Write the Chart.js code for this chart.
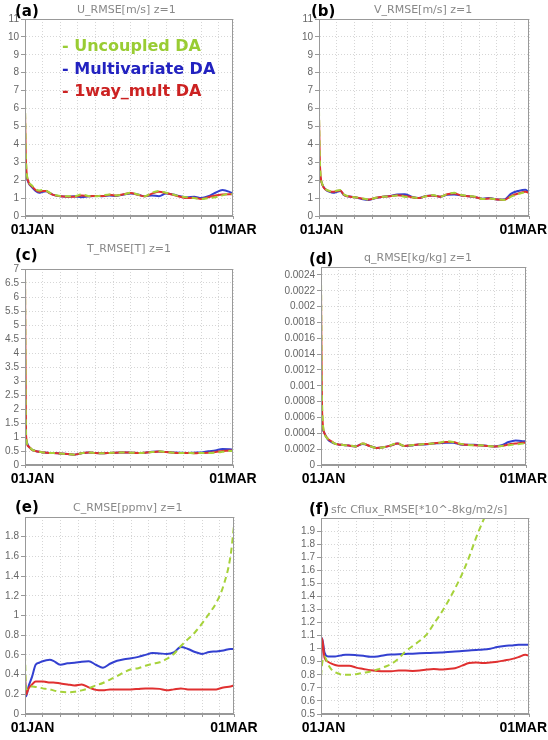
<!DOCTYPE html>
<html>
<head>
<meta charset="utf-8">
<script src="https://cdn.jsdelivr.net/npm/chart.js@4.4.1/dist/chart.umd.min.js"></script>
<style>
  body { margin: 0; background: #fff; width: 548px; height: 740px; position: relative; overflow: hidden; }
  canvas { position: absolute; }
  .tag { position: absolute; font: bold 15px "DejaVu Sans", sans-serif; color: #000; line-height: 1; white-space: nowrap; }
  .sub { position: absolute; font: 11px "DejaVu Sans", sans-serif; color: #888; line-height: 1; white-space: nowrap; }
  .legend { position: absolute; left: 62px; top: 35px; font: bold 16px "DejaVu Sans", sans-serif; line-height: 22.5px; white-space: nowrap; }
</style>
</head>
<body>
<script>
// days since 01JAN
const days = [0, 0.3, 1, 2, 3, 4, 5, 6, 7, 8, 10, 12, 14, 16, 18, 20, 22, 24, 26, 28, 30, 32, 34, 36, 38, 40, 42, 44, 46, 48, 50, 52, 54, 56, 58, 59];
const xTicks = [0, 5, 10, 15, 20, 25, 30, 35, 40, 45, 50, 55, 59];
const dateLabels = ['01JAN', '01MAR'];
const dateDays = [0, 59];
const seriesNames = ['Uncoupled DA', 'Multivariate DA', '1way_mult DA'];

// (a) U
const uUnc = [6.3, 3.0, 1.95, 1.7, 1.5, 1.42, 1.45, 1.42, 1.3, 1.2, 1.12, 1.1, 1.1, 1.2, 1.12, 1.1, 1.15, 1.2, 1.15, 1.2, 1.3, 1.2, 1.1, 1.3, 1.4, 1.3, 1.2, 1.1, 1.05, 1.0, 0.95, 1.0, 1.05, 1.15, 1.25, 1.2];
const uMul = [2.6, 2.3, 1.85, 1.6, 1.4, 1.3, 1.35, 1.38, 1.28, 1.18, 1.1, 1.08, 1.1, 1.05, 1.1, 1.12, 1.1, 1.15, 1.12, 1.2, 1.25, 1.2, 1.1, 1.15, 1.1, 1.25, 1.2, 1.1, 1.05, 1.08, 1.0, 1.1, 1.3, 1.45, 1.35, 1.25];
const u1w = [5.8, 2.9, 1.9, 1.65, 1.45, 1.35, 1.4, 1.4, 1.28, 1.18, 1.1, 1.08, 1.08, 1.15, 1.1, 1.12, 1.12, 1.18, 1.15, 1.22, 1.28, 1.18, 1.1, 1.25, 1.35, 1.28, 1.18, 1.08, 1.0, 1.02, 0.95, 1.05, 1.15, 1.2, 1.22, 1.2];
// (b) V
const vUnc = [5.9, 2.8, 1.75, 1.48, 1.4, 1.38, 1.42, 1.45, 1.2, 1.12, 1.05, 1.0, 0.92, 1.02, 1.08, 1.1, 1.15, 1.08, 1.05, 1.0, 1.1, 1.17, 1.08, 1.22, 1.3, 1.17, 1.12, 1.08, 0.95, 0.98, 0.93, 0.9, 1.08, 1.22, 1.32, 1.27];
const vMul = [2.6, 2.2, 1.73, 1.45, 1.35, 1.3, 1.35, 1.4, 1.17, 1.1, 1.05, 0.95, 0.9, 1.0, 1.08, 1.12, 1.2, 1.22, 1.08, 1.0, 1.12, 1.15, 1.08, 1.18, 1.2, 1.15, 1.1, 1.05, 0.97, 1.0, 0.92, 0.92, 1.25, 1.4, 1.47, 1.3];
const v1w = [5.5, 2.7, 1.72, 1.46, 1.38, 1.35, 1.4, 1.42, 1.18, 1.1, 1.05, 0.98, 0.92, 1.02, 1.08, 1.1, 1.16, 1.12, 1.05, 1.0, 1.1, 1.15, 1.08, 1.22, 1.25, 1.15, 1.1, 1.05, 0.95, 0.98, 0.92, 0.9, 1.12, 1.26, 1.36, 1.28];
// (c) T
const tUnc = [7.0, 1.1, 0.67, 0.55, 0.5, 0.47, 0.45, 0.44, 0.43, 0.43, 0.41, 0.39, 0.37, 0.42, 0.45, 0.43, 0.42, 0.43, 0.44, 0.45, 0.44, 0.43, 0.44, 0.46, 0.49, 0.46, 0.44, 0.43, 0.43, 0.42, 0.43, 0.43, 0.44, 0.47, 0.5, 0.5];
const tMul = [1.02, 0.9, 0.67, 0.55, 0.5, 0.47, 0.45, 0.44, 0.43, 0.43, 0.41, 0.39, 0.37, 0.42, 0.45, 0.43, 0.42, 0.43, 0.44, 0.45, 0.44, 0.43, 0.44, 0.47, 0.48, 0.46, 0.45, 0.44, 0.43, 0.44, 0.45, 0.49, 0.52, 0.57, 0.56, 0.55];
const t1w = [6.8, 1.05, 0.66, 0.54, 0.5, 0.47, 0.45, 0.44, 0.43, 0.43, 0.41, 0.39, 0.37, 0.42, 0.45, 0.43, 0.42, 0.43, 0.44, 0.45, 0.44, 0.43, 0.44, 0.46, 0.48, 0.46, 0.44, 0.43, 0.43, 0.42, 0.43, 0.44, 0.46, 0.5, 0.52, 0.52];
// (d) q
const qUnc = [0.0024, 0.0008, 0.0004, 0.00033, 0.0003, 0.00027, 0.00026, 0.000255, 0.00025, 0.00025, 0.000235, 0.00027, 0.00024, 0.000215, 0.000225, 0.00025, 0.000275, 0.00024, 0.00025, 0.00026, 0.000265, 0.00027, 0.00028, 0.0003, 0.00029, 0.00027, 0.000255, 0.00025, 0.00025, 0.00024, 0.000235, 0.00024, 0.00025, 0.00026, 0.00027, 0.00028];
const qMul = [0.00052, 0.00047, 0.0004, 0.00032, 0.00029, 0.00027, 0.00026, 0.000255, 0.00025, 0.000245, 0.000235, 0.000265, 0.00024, 0.000215, 0.000225, 0.000245, 0.00027, 0.00024, 0.000245, 0.00026, 0.00026, 0.00027, 0.000275, 0.00028, 0.00028, 0.00026, 0.000255, 0.000255, 0.00025, 0.00024, 0.000235, 0.00025, 0.00029, 0.00031, 0.0003, 0.0003];
const q1w = [0.0022, 0.0007, 0.0004, 0.00033, 0.0003, 0.00027, 0.00026, 0.000255, 0.00025, 0.000245, 0.000235, 0.00027, 0.00024, 0.000215, 0.000225, 0.000245, 0.00027, 0.00024, 0.00025, 0.00026, 0.000265, 0.00027, 0.00028, 0.00029, 0.00029, 0.000265, 0.000255, 0.00025, 0.000245, 0.00024, 0.000235, 0.00024, 0.00026, 0.00027, 0.00028, 0.00028];
// (e) C
const cUnc = [0.6, 0.25, 0.27, 0.28, 0.275, 0.27, 0.26, 0.255, 0.25, 0.24, 0.225, 0.22, 0.225, 0.24, 0.26, 0.29, 0.315, 0.35, 0.385, 0.425, 0.455, 0.465, 0.49, 0.51, 0.525, 0.56, 0.61, 0.69, 0.76, 0.83, 0.92, 1.02, 1.13, 1.3, 1.6, 1.91];
const cMul = [0.35, 0.18, 0.28, 0.38, 0.5, 0.52, 0.535, 0.545, 0.55, 0.54, 0.5, 0.515, 0.52, 0.53, 0.535, 0.5, 0.47, 0.51, 0.54, 0.555, 0.565, 0.58, 0.6, 0.62, 0.615, 0.61, 0.625, 0.68, 0.66, 0.63, 0.61, 0.63, 0.635, 0.645, 0.66, 0.66];
const c1w = [0.4, 0.2, 0.26, 0.3, 0.33, 0.33, 0.33, 0.325, 0.32, 0.32, 0.31, 0.3, 0.29, 0.3, 0.27, 0.245, 0.24, 0.25, 0.25, 0.25, 0.25, 0.255, 0.26, 0.26, 0.255, 0.24, 0.25, 0.26, 0.25, 0.25, 0.25, 0.25, 0.25, 0.27, 0.28, 0.29];
// (f) surface C flux
const fUnc = [0.79, 0.88, 0.94, 0.88, 0.84, 0.82, 0.81, 0.8, 0.8, 0.8, 0.805, 0.815, 0.825, 0.84, 0.86, 0.885, 0.925, 0.98, 1.02, 1.06, 1.11, 1.19, 1.27, 1.36, 1.46, 1.57, 1.7, 1.85, 1.98, 2.1, null, null, null, null, null, null];
const fMul = [0.9, 1.08, 0.97, 0.94, 0.94, 0.94, 0.945, 0.95, 0.953, 0.953, 0.95, 0.945, 0.938, 0.94, 0.95, 0.955, 0.958, 0.96, 0.962, 0.965, 0.967, 0.968, 0.97, 0.975, 0.978, 0.982, 0.986, 0.99, 0.993, 1.0, 1.012, 1.02, 1.025, 1.03, 1.03, 1.03];
const f1w = [0.88, 1.08, 0.93, 0.9, 0.885, 0.875, 0.87, 0.87, 0.87, 0.87, 0.855, 0.845, 0.835, 0.83, 0.828, 0.828, 0.832, 0.832, 0.83, 0.832, 0.84, 0.845, 0.84, 0.845, 0.85, 0.87, 0.89, 0.895, 0.89, 0.895, 0.9, 0.91, 0.92, 0.935, 0.953, 0.945];

// y tick values
const uvTicks = [0, 1, 2, 3, 4, 5, 6, 7, 8, 9, 10, 11];
const tTicks = [0, 0.5, 1, 1.5, 2, 2.5, 3, 3.5, 4, 4.5, 5, 5.5, 6, 6.5, 7];
const qTicks = [0, 0.0002, 0.0004, 0.0006, 0.0008, 0.001, 0.0012, 0.0014, 0.0016, 0.0018, 0.002, 0.0022, 0.0024];
const cTicks = [0, 0.2, 0.4, 0.6, 0.8, 1, 1.2, 1.4, 1.6, 1.8];
const fTicks = [0.5, 0.6, 0.7, 0.8, 0.9, 1, 1.1, 1.2, 1.3, 1.4, 1.5, 1.6, 1.7, 1.8, 1.9];

const GREEN = '#a6d23a';
const BLUE = '#3340d0';
const RED = '#e03030';

// layout of the six panels (pixels)
const panels = [
  { tag: '(a)', title: 'U_RMSE[m/s]  z=1', series: [uUnc, uMul, u1w], min: 0, max: 11, ticks: uvTicks,
    left: 0, top: 0, h: 245, padTop: 19, padRight: 41, yw: 25, xh: 29, jan: 7.5,
    tagPos: [15, 4], subPos: [77, 3.5] },
  { tag: '(b)', title: 'V_RMSE[m/s]  z=1', series: [vUnc, vMul, v1w], min: 0, max: 11, ticks: uvTicks,
    left: 274, top: 0, h: 245, padTop: 19, padRight: 19, yw: 45, xh: 29, jan: 2.5,
    tagPos: [311, 4], subPos: [374, 3.5] },
  { tag: '(c)', title: 'T_RMSE[T]  z=1', series: [tUnc, tMul, t1w], min: 0, max: 7, ticks: tTicks,
    left: 0, top: 245, h: 245, padTop: 24, padRight: 41, yw: 25, xh: 25, jan: 7.5,
    tagPos: [15, 248], subPos: [87, 242.5] },
  { tag: '(d)', title: 'q_RMSE[kg/kg]  z=1', series: [qUnc, qMul, q1w], min: 0, max: 0.0025, ticks: qTicks,
    left: 274, top: 245, h: 245, padTop: 22, padRight: 22, yw: 47, xh: 25, jan: 2.5,
    tagPos: [309, 252], subPos: [364, 251.5] },
  { tag: '(e)', title: 'C_RMSE[ppmv]  z=1', series: [cUnc, cMul, c1w], min: 0, max: 2, ticks: cTicks,
    left: 0, top: 490, h: 250, padTop: 27, padRight: 40, yw: 25, xh: 26, jan: 7.5,
    tagPos: [15, 500], subPos: [73, 501.5] },
  { tag: '(f)', title: 'sfc Cflux_RMSE[*10^-8kg/m2/s]', series: [fUnc, fMul, f1w], min: 0.5, max: 2, ticks: fTicks,
    left: 274, top: 490, h: 250, padTop: 28, padRight: 19, yw: 47, xh: 26, jan: 2.5,
    tagPos: [309, 502], subPos: [331, 503.5] }
];

// box around the plot area
const framePlugin = {
  id: 'frame',
  afterDraw(chart) {
    const { ctx, chartArea: a } = chart;
    ctx.save();
    ctx.strokeStyle = '#999';
    ctx.lineWidth = 1;
    ctx.strokeRect(Math.round(a.left) + 0.5, Math.round(a.top) + 0.5, Math.round(a.right - a.left) - 1, Math.round(a.bottom - a.top) - 1);
    ctx.restore();
  }
};

// bold date labels under the x axis
const datePlugin = {
  id: 'dates',
  afterDraw(chart, args, opts) {
    const { ctx, chartArea, scales: { x } } = chart;
    ctx.save();
    ctx.font = 'bold 14px "Liberation Sans", Arial, sans-serif';
    ctx.fillStyle = '#000';
    ctx.textAlign = 'center';
    ctx.textBaseline = 'middle';
    dateDays.forEach((d, i) => {
      const w = ctx.measureText(dateLabels[i]).width;
      let cx = x.getPixelForValue(d) + (i === 0 ? opts.jan : 0);
      cx = Math.min(Math.max(cx, w / 2 + 1), chart.width - w / 2 - 1);
      ctx.fillText(dateLabels[i], cx, chartArea.bottom + 14);
    });
    ctx.restore();
  }
};

const pts = vals => days.map((d, i) => ({ x: d, y: vals[i] }));
const fmt = v => String(+Number(v).toFixed(6));

function addText(cls, text, x, y) {
  const el = document.createElement('div');
  el.className = cls;
  el.textContent = text;
  el.style.left = x + 'px';
  el.style.top = y + 'px';
  document.body.appendChild(el);
  return el;
}

panels.forEach(p => {
  const canvas = document.createElement('canvas');
  canvas.width = 274;
  canvas.height = p.h;
  canvas.style.left = p.left + 'px';
  canvas.style.top = p.top + 'px';
  document.body.appendChild(canvas);

  const gridOpts = { color: '#d6d6d6', tickColor: '#999', tickLength: 4, tickBorderDash: [] };
  const borderOpts = { color: '#999', dash: [1, 2] };

  new Chart(canvas, {
    type: 'line',
    data: {
      datasets: [
        { label: seriesNames[0], data: pts(p.series[0]), borderColor: GREEN, borderDash: [6, 4], borderWidth: 2, order: 0 },
        { label: seriesNames[1], data: pts(p.series[1]), borderColor: BLUE, borderWidth: 2, order: 2 },
        { label: seriesNames[2], data: pts(p.series[2]), borderColor: RED, borderWidth: 2, order: 1 }
      ]
    },
    options: {
      responsive: false,
      animation: false,
      elements: { point: { radius: 0 }, line: { cubicInterpolationMode: 'monotone' } },
      layout: { padding: { top: p.padTop, right: p.padRight, bottom: 0, left: 0 } },
      plugins: { legend: { display: false }, tooltip: { enabled: false }, dates: { jan: p.jan } },
      scales: {
        x: {
          type: 'linear', min: 0, max: 59,
          afterFit: s => { s.height = p.xh; },
          afterBuildTicks: s => { s.ticks = xTicks.map(v => ({ value: v })); },
          ticks: { display: false, autoSkip: false },
          grid: Object.assign({}, gridOpts, { tickLength: 3 }),
          border: borderOpts
        },
        y: {
          min: p.min, max: p.max,
          afterFit: s => { s.width = p.yw; },
          afterBuildTicks: s => { s.ticks = p.ticks.map(v => ({ value: v })); },
          ticks: { color: '#666', padding: 2, autoSkip: false, font: { family: '"Liberation Sans", Arial, sans-serif', size: 10 }, callback: fmt },
          grid: gridOpts,
          border: borderOpts
        }
      }
    },
    plugins: [framePlugin, datePlugin]
  });

  addText('tag', p.tag, p.tagPos[0], p.tagPos[1]);
  addText('sub', p.title, p.subPos[0], p.subPos[1]);
});

// legend inside panel (a)
const legend = document.createElement('div');
legend.className = 'legend';
['#99cc33', '#2222c0', '#cc2222'].forEach((c, i) => {
  const line = document.createElement('div');
  line.style.color = c;
  line.textContent = '- ' + seriesNames[i];
  legend.appendChild(line);
});
document.body.appendChild(legend);
</script>
</body>
</html>
